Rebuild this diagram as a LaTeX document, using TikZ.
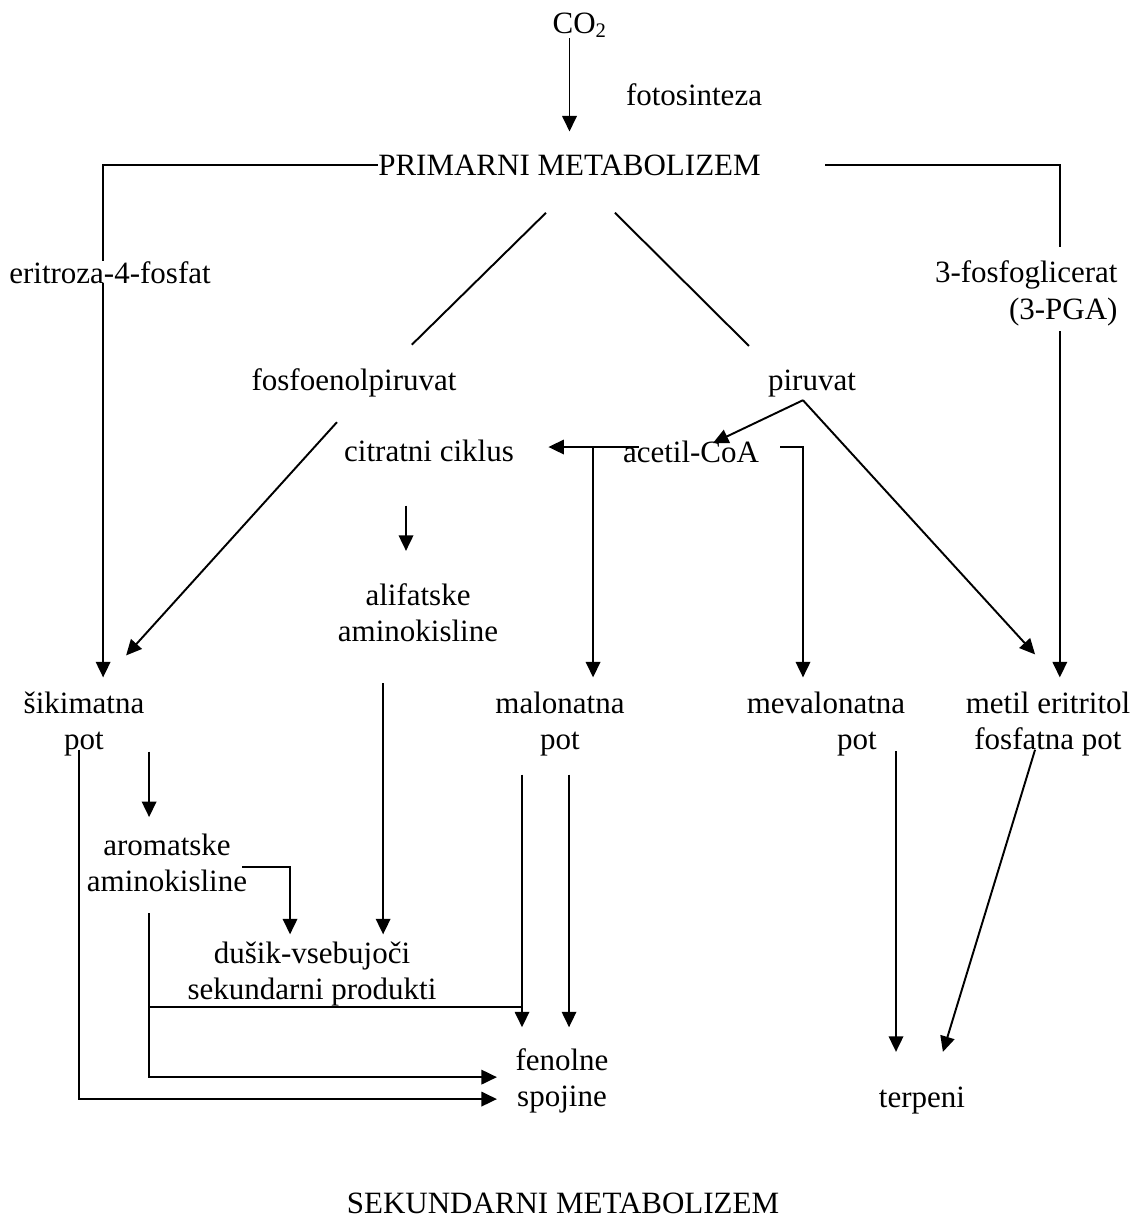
\documentclass[tikz,border=0pt]{standalone}
\usepackage{fontspec}
\setmainfont{Liberation Serif}
\usetikzlibrary{arrows.meta, positioning}

\begin{document}
\begin{tikzpicture}[x=0.3871pt, y=-0.3871pt,
  lbl/.style={font=\fontsize{12}{14}\selectfont, inner sep=0pt, align=center},
  ln/.style={line width=0.75pt},
  arr/.style={line width=0.75pt, -{Triangle[length=6pt, width=5.6pt]}}]
\useasboundingbox (0,0) rectangle (1137,1220);
\node[lbl, anchor=base] (co2) at (580,33) {CO\textsubscript{2}};
\node[lbl, anchor=base] (foto) at (694,105) {fotosinteza};
\node[lbl, anchor=base] (prim) at (569.5,175) {PRIMARNI METABOLIZEM};
\node[lbl, anchor=east, align=right] (pga) at (1118,293.4) {3-fosfoglicerat\\(3-PGA)};
\node[lbl, anchor=base] (fosfo) at (354,390) {fosfoenolpiruvat};
\node[lbl, anchor=base] (piru) at (812,390) {piruvat};
\node[lbl, anchor=base] (citr) at (429,461) {citratni ciklus};
\node[lbl, anchor=base] (acet) at (691,462) {acetil-CoA};
\node[lbl] (alif) at (418,612.6) {alifatske\\aminokisline};
\node[lbl] (sik) at (84,724) {šikimatna\\pot};
\node[lbl] (malo) at (560,724) {malonatna\\pot};
\node[lbl] (meva) at (826,724) {mevalonatna\\\hspace*{2em}pot};
\node[lbl] (meti) at (1048,724) {metil eritritol\\fosfatna pot};
\node[lbl] (arom) at (167,862.6) {aromatske\\aminokisline};
\node[lbl] (dus) at (312,974) {dušik-vsebujoči\\sekundarni produkti};
\node[lbl] (feno) at (562,1081) {fenolne\\spojine};
\node[lbl, anchor=base] (terp) at (922,1107) {terpeni};
\node[lbl, anchor=base] (sek) at (563,1213) {SEKUNDARNI METABOLIZEM};

\draw[arr] (co2.south -| prim.north) -- ([yshift=8.7pt]prim.north);

\coordinate (sik-in) at ([xshift=7.4pt,yshift=5.4pt]sik.north);
\draw[arr] (prim.west) -| (sik-in);
\node[lbl, anchor=base, fill=white, text depth=0pt] (eri) at (110,283) {eritroza-4-fosfat};

\coordinate (pga-top) at ([xshift=13pt,yshift=5.4pt]pga.north);
\coordinate (pga-bot) at ([xshift=13pt,yshift=-2pt]pga.south);
\coordinate (meti-in) at ([yshift=5.4pt]meti.north);
\draw[ln] ([xshift=24.8pt]prim.east) -| (pga-top);
\draw[arr] (pga-bot) -- (pga-bot |- meti-in);

\draw[ln] ([xshift=-9.1pt,yshift=-14.3pt]prim.south) -- ([xshift=22.4pt,yshift=8.9pt]fosfo.north);
\draw[ln] ([xshift=17.6pt,yshift=-14.3pt]prim.south) -- ([xshift=-24.4pt,yshift=8.9pt]piru.north);
\draw[arr] ([xshift=-6.6pt,yshift=-9.7pt]fosfo.south) -- ([xshift=16.3pt,yshift=13.9pt]sik.north);

\coordinate (pj) at ([xshift=-3.5pt,yshift=-1.2pt]piru.south);
\draw[arr] (pj) -- ([xshift=8.5pt,yshift=-1.2pt]acet.north);
\draw[arr] (pj) -- ([xshift=-5pt,yshift=14.3pt]meti.north);

\coordinate (acet-l) at ([xshift=6.2pt,yshift=1.7pt]acet.west);
\coordinate (acet-r) at ([xshift=8.1pt,yshift=1.7pt]acet.east);
\coordinate (citr-in) at ([xshift=13.2pt]citr.east);
\coordinate (malo-in) at ([xshift=12.8pt,yshift=5.4pt]malo.north);
\coordinate (meva-in) at ([xshift=-8.9pt,yshift=5.4pt]meva.north);
\draw[arr] (acet-l) -- (acet-l -| citr-in);
\draw[arr] (malo-in |- acet-l) -- (malo-in);
\draw[arr] (acet-r) -| (meva-in);

\coordinate (citr-out) at ([xshift=-8.9pt,yshift=-17pt]citr.south);
\coordinate (alif-in) at ([yshift=12.4pt]alif.north);
\draw[arr] (citr-out) -- (citr-out |- alif-in);
\coordinate (alif-out) at ([xshift=-13.5pt,yshift=-15.9pt]alif.south);
\coordinate (dus-in) at ([xshift=-8.5pt,yshift=2.7pt]dus.north);
\draw[arr] (alif-out) -- (alif-out |- dus-in);

\coordinate (sik-a) at ([xshift=25.2pt,yshift=2pt]sik.south);
\coordinate (sik-b) at ([xshift=-2pt,yshift=2.7pt]sik.south);
\coordinate (arom-in) at ([yshift=6.2pt]arom.north);
\coordinate (feno-b) at ([xshift=-7pt,yshift=-7pt]feno.west);
\draw[arr] (sik-a) -- (sik-a |- arom-in);
\draw[arr] (sik-b) |- (feno-b);

\coordinate (arom-out) at ([xshift=-7pt,yshift=-8.1pt]arom.south);
\coordinate (feno-a) at ([xshift=-7pt,yshift=1.5pt]feno.west);
\draw[arr] ([xshift=-2pt,yshift=-1.7pt]arom.east) -| (dus-in);
\draw[arr] (arom-out) |- (feno-a);

\coordinate (feno-in) at ([yshift=8.1pt]feno.north);
\coordinate (malo-l) at ([xshift=-14.7pt,yshift=-7pt]malo.south);
\coordinate (malo-r) at ([xshift=3.5pt,yshift=-7pt]malo.south);
\draw[arr] (malo-l) -- (malo-l |- feno-in);
\draw[arr] (malo-r) -- (malo-r |- feno-in);
\draw[ln] (arom-out |- dus.south) -- (malo-l |- dus.south);

\coordinate (terp-in) at ([yshift=13.2pt]terp.north);
\coordinate (meva-out) at ([xshift=27.1pt,yshift=2pt]meva.south);
\draw[arr] (meva-out) -- (meva-out |- terp-in);
\draw[arr] ([xshift=-5pt,yshift=2.7pt]meti.south) -- ([xshift=8.1pt]terp-in);
\end{tikzpicture}
\end{document}
